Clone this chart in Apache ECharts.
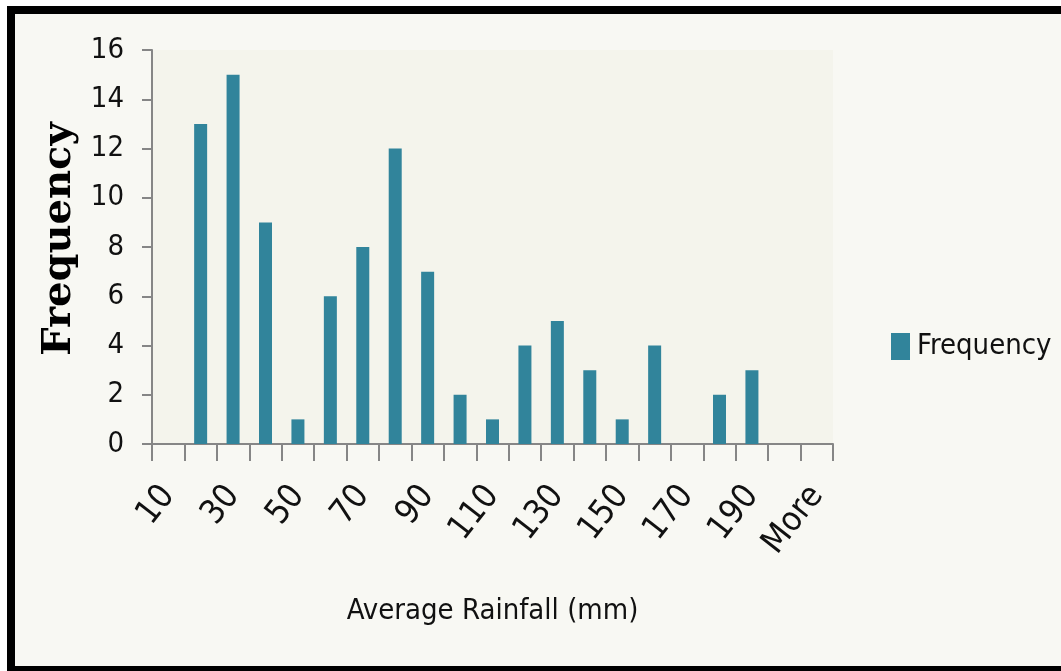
<!DOCTYPE html>
<html>
<head>
<meta charset="utf-8">
<script src="https://cdn.jsdelivr.net/npm/echarts@6/dist/echarts.min.js"></script>
<style>
  html, body { margin: 0; padding: 0; width: 1061px; height: 671px; overflow: hidden; background: #ffffff; }
  #frame { position: absolute; left: 7px; top: 6px; width: 1200px; height: 665px; background: #000000; }
  #panel { position: absolute; left: 15px; top: 14px; width: 1200px; height: 652px; background: #f8f8f3; }
  #chart { position: absolute; left: 0; top: 0; width: 1061px; height: 671px; }
</style>
</head>
<body>
<div id="frame"></div>
<div id="panel"></div>
<div id="chart"></div>
<script>
// Rainfall bins (upper bound, mm) and how many records fall in each
const bins = ['10', '20', '30', '40', '50', '60', '70', '80', '90', '100',
              '110', '120', '130', '140', '150', '160', '170', '180', '190', '200', 'More'];
const frequency = [0, 13, 15, 9, 1, 6, 8, 12, 7, 2, 1, 4, 5, 3, 1, 4, 0, 2, 3, 0, 0];

const yMin = 0;
const yMax = 16;
const yStep = 2;

const narrow = '"DejaVu Sans Condensed", "Liberation Sans Narrow", "Liberation Sans", sans-serif';
const axisGrey = '#868686';
const barColor = '#31849b';

const chart = echarts.init(document.getElementById('chart'), null, { renderer: 'canvas' });

chart.setOption({
  backgroundColor: 'transparent',
  animation: false,
  grid: {
    left: 152, top: 50, right: 228, bottom: 227,
    show: true, backgroundColor: '#f4f4ec', borderWidth: 0
  },
  legend: {
    left: 891, top: 332, padding: 0,
    itemWidth: 19, itemHeight: 27, itemGap: 10,
    icon: 'rect',
    data: ['Frequency'],
    textStyle: { fontFamily: narrow, fontSize: 29, color: '#111111', padding: [0, 0, 0, 2] }
  },
  xAxis: {
    type: 'category',
    data: bins,
    boundaryGap: true,
    name: 'Average Rainfall (mm)',
    nameLocation: 'middle',
    nameGap: 153,
    nameTextStyle: { fontFamily: narrow, fontSize: 29, color: '#111111' },
    axisLine: { show: true, lineStyle: { color: axisGrey, width: 2 } },
    axisTick: { show: true, interval: 0, alignWithLabel: false, length: 17, lineStyle: { color: axisGrey, width: 2 } },
    axisLabel: {
      interval: 1, rotate: 52, margin: 46, padding: [12, 0, 0, 0],
      fontFamily: narrow, fontSize: 34, color: '#111111'
    },
    splitLine: { show: false }
  },
  yAxis: {
    type: 'value',
    min: yMin, max: yMax, interval: yStep,
    name: 'Frequency',
    nameLocation: 'middle',
    nameRotate: 90,
    nameGap: 60,
    nameTextStyle: {
      fontFamily: '"DejaVu Serif", serif', fontWeight: 'bold', fontSize: 40, color: '#000000',
      padding: [0, 0, 0, 16]
    },
    axisLine: { show: true, lineStyle: { color: axisGrey, width: 2 } },
    axisTick: { show: true, inside: false, length: 10, lineStyle: { color: axisGrey, width: 2 } },
    axisLabel: { margin: 28, fontFamily: narrow, fontSize: 29, color: '#111111' },
    splitLine: { show: false }
  },
  series: [{
    name: 'Frequency',
    type: 'bar',
    data: frequency,
    barWidth: 13,
    itemStyle: { color: barColor }
  }]
});
</script>
</body>
</html>
